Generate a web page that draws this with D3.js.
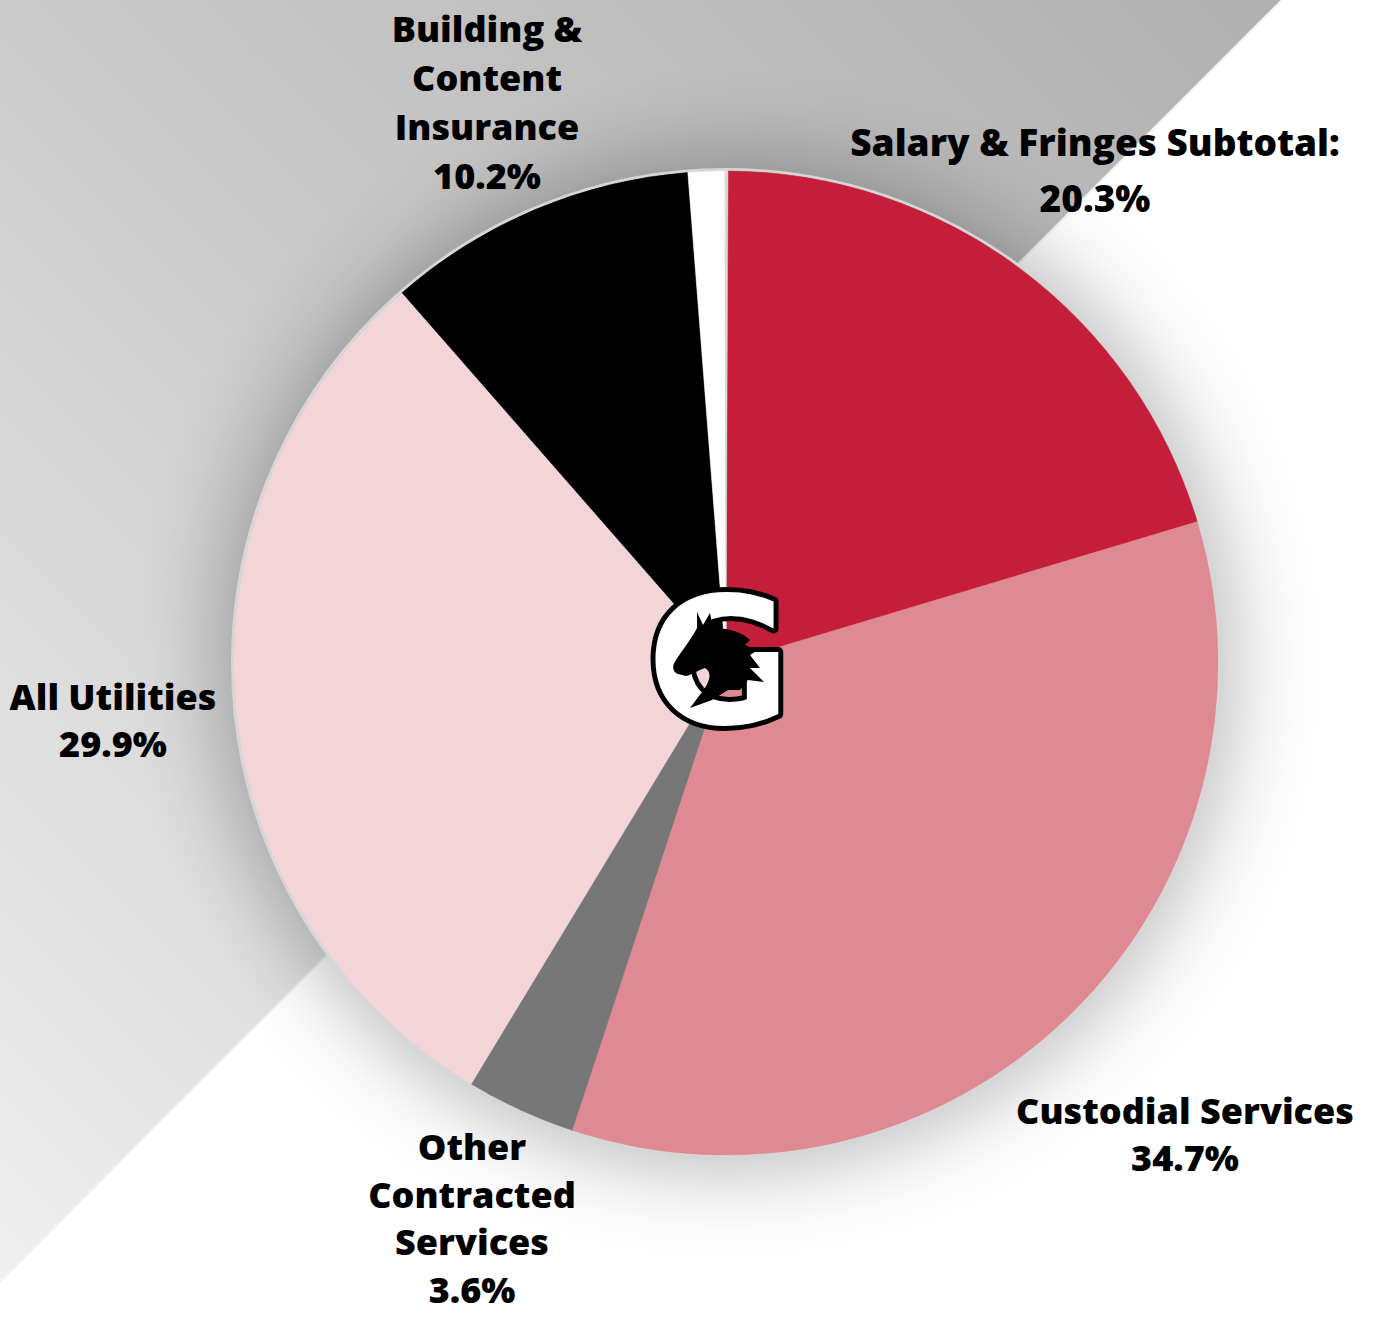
<!DOCTYPE html>
<html>
<head>
<meta charset="utf-8">
<script src="https://cdn.jsdelivr.net/npm/d3@7"></script>
<style>
  html, body { margin: 0; padding: 0; background: #fff; }
  svg { display: block; }
  .lbl { font-family: "Open Sans", "DejaVu Sans", sans-serif; font-weight: 800; fill: #000; }
</style>
</head>
<body>
<svg id="chart" width="1380" height="1317"></svg>
<script>
// ---- data ----
const categories = ["Salary & Fringes Subtotal:", "Custodial Services", "Other Contracted Services", "All Utilities", "Building & Content Insurance", "Other", "Misc"];
const values = [20.3, 34.7, 3.6, 29.9, 10.2, 1.2, 0.1];
const labelLines = [
  ["Salary & Fringes Subtotal:"],
  ["Custodial Services"],
  ["Other", "Contracted", "Services"],
  ["All Utilities"],
  ["Building &", "Content", "Insurance"],
  null,
  null
];
const colors = ["#C41E3A", "#DF8A92", "#777777", "#F3D5D7", "#000000", "#FFFFFF", "#D9D9D9"];

// ---- layout (not data) ----
const W = 1380, H = 1317;
const cx = 726, cy = 663, R = 492;
const labelLayout = [
  { x: 1095, y: 156, dy: 56, size: 37 },
  { x: 1185, y: 1124, dy: 47, size: 36 },
  { x: 472, y: 1160, dy: 47.5, size: 36 },
  { x: 113, y: 710, dy: 47, size: 36 },
  { x: 487, y: 42, dy: 49, size: 36 }
];

const svg = d3.select("#chart");
const defs = svg.append("defs");

const bg = defs.append("linearGradient").attr("id", "bgGrad")
  .attr("gradientUnits", "userSpaceOnUse")
  .attr("x1", 0).attr("y1", 1282).attr("x2", 1282).attr("y2", 0);
bg.append("stop").attr("offset", 0).attr("stop-color", "#efefef");
bg.append("stop").attr("offset", 0.5).attr("stop-color", "#cbcbcb");
bg.append("stop").attr("offset", 1).attr("stop-color", "#b0b0b0");

const blur = defs.append("filter").attr("id", "shadow")
  .attr("x", "-50%").attr("y", "-50%").attr("width", "200%").attr("height", "200%");
blur.append("feGaussianBlur").attr("stdDeviation", 48);

svg.append("rect").attr("width", W).attr("height", H).attr("fill", "#ffffff");
svg.append("path").attr("d", "M0,0 L1282,0 L0,1282 Z").attr("fill", "url(#bgGrad)");
svg.append("line").attr("x1", 1282).attr("y1", 0).attr("x2", 0).attr("y2", 1282)
  .attr("stroke", "#f3f3f3").attr("stroke-width", 2);

svg.append("circle").attr("cx", cx).attr("cy", cy).attr("r", R + 6)
  .attr("fill", "#000").attr("opacity", 0.32).attr("filter", "url(#shadow)");

svg.append("circle").attr("cx", cx).attr("cy", cy).attr("r", R + 1.5)
  .attr("fill", "none").attr("stroke", "#d6d6d6").attr("stroke-width", 3);

const offset = 0.004;
const pie = d3.pie().sort(null).value(d => d)
  .startAngle(offset).endAngle(2 * Math.PI + offset);
const arcs = pie(values);
const arc = d3.arc().innerRadius(0).outerRadius(R);

const g = svg.append("g").attr("transform", `translate(${cx},${cy})`);
g.selectAll("path.slice").data(arcs).enter().append("path")
  .attr("class", "slice")
  .attr("d", arc)
  .attr("fill", (d, i) => colors[i])
  .attr("stroke", (d, i) => colors[i])
  .attr("stroke-width", 0.5);

const fmt = d3.format(".1f");
labelLayout.forEach((L, i) => {
  const lines = labelLines[i].concat([fmt(values[i]) + "%"]);
  const t = svg.append("text").attr("class", "lbl")
    .attr("text-anchor", "middle")
    .attr("font-size", L.size);
  lines.forEach((s, k) => {
    t.append("tspan").attr("x", L.x).attr("y", L.y + k * L.dy).text(s);
  });
});

// center logo (G with horse head)
const logo = svg.append("g");
logo.append("text")
  .attr("x", 719).attr("y", 724)
  .attr("text-anchor", "middle")
  .attr("font-family", "DejaVu Sans")
  .attr("font-weight", "bold")
  .attr("font-size", 176)
  .attr("fill", "#ffffff")
  .attr("stroke", "#000")
  .attr("stroke-width", 10)
  .attr("paint-order", "stroke")
  .attr("stroke-linejoin", "round")
  .text("G");
logo.append("path")
  .attr("d", "M697,612 L703,625 L710,613 L713,628 C728,628 742,632 750,640 L745,645 L758,650 L750,655 L760,668 L750,668 L764,682 L748,680 L740,690 L728,690 L712,700 L690,708 L705,688 C710,680 712,672 705,668 C698,670 692,675 686,676 L678,674 C672,672 672,665 676,660 C684,648 692,638 697,628 Z")
  .attr("fill", "#000");
</script>
</body>
</html>
